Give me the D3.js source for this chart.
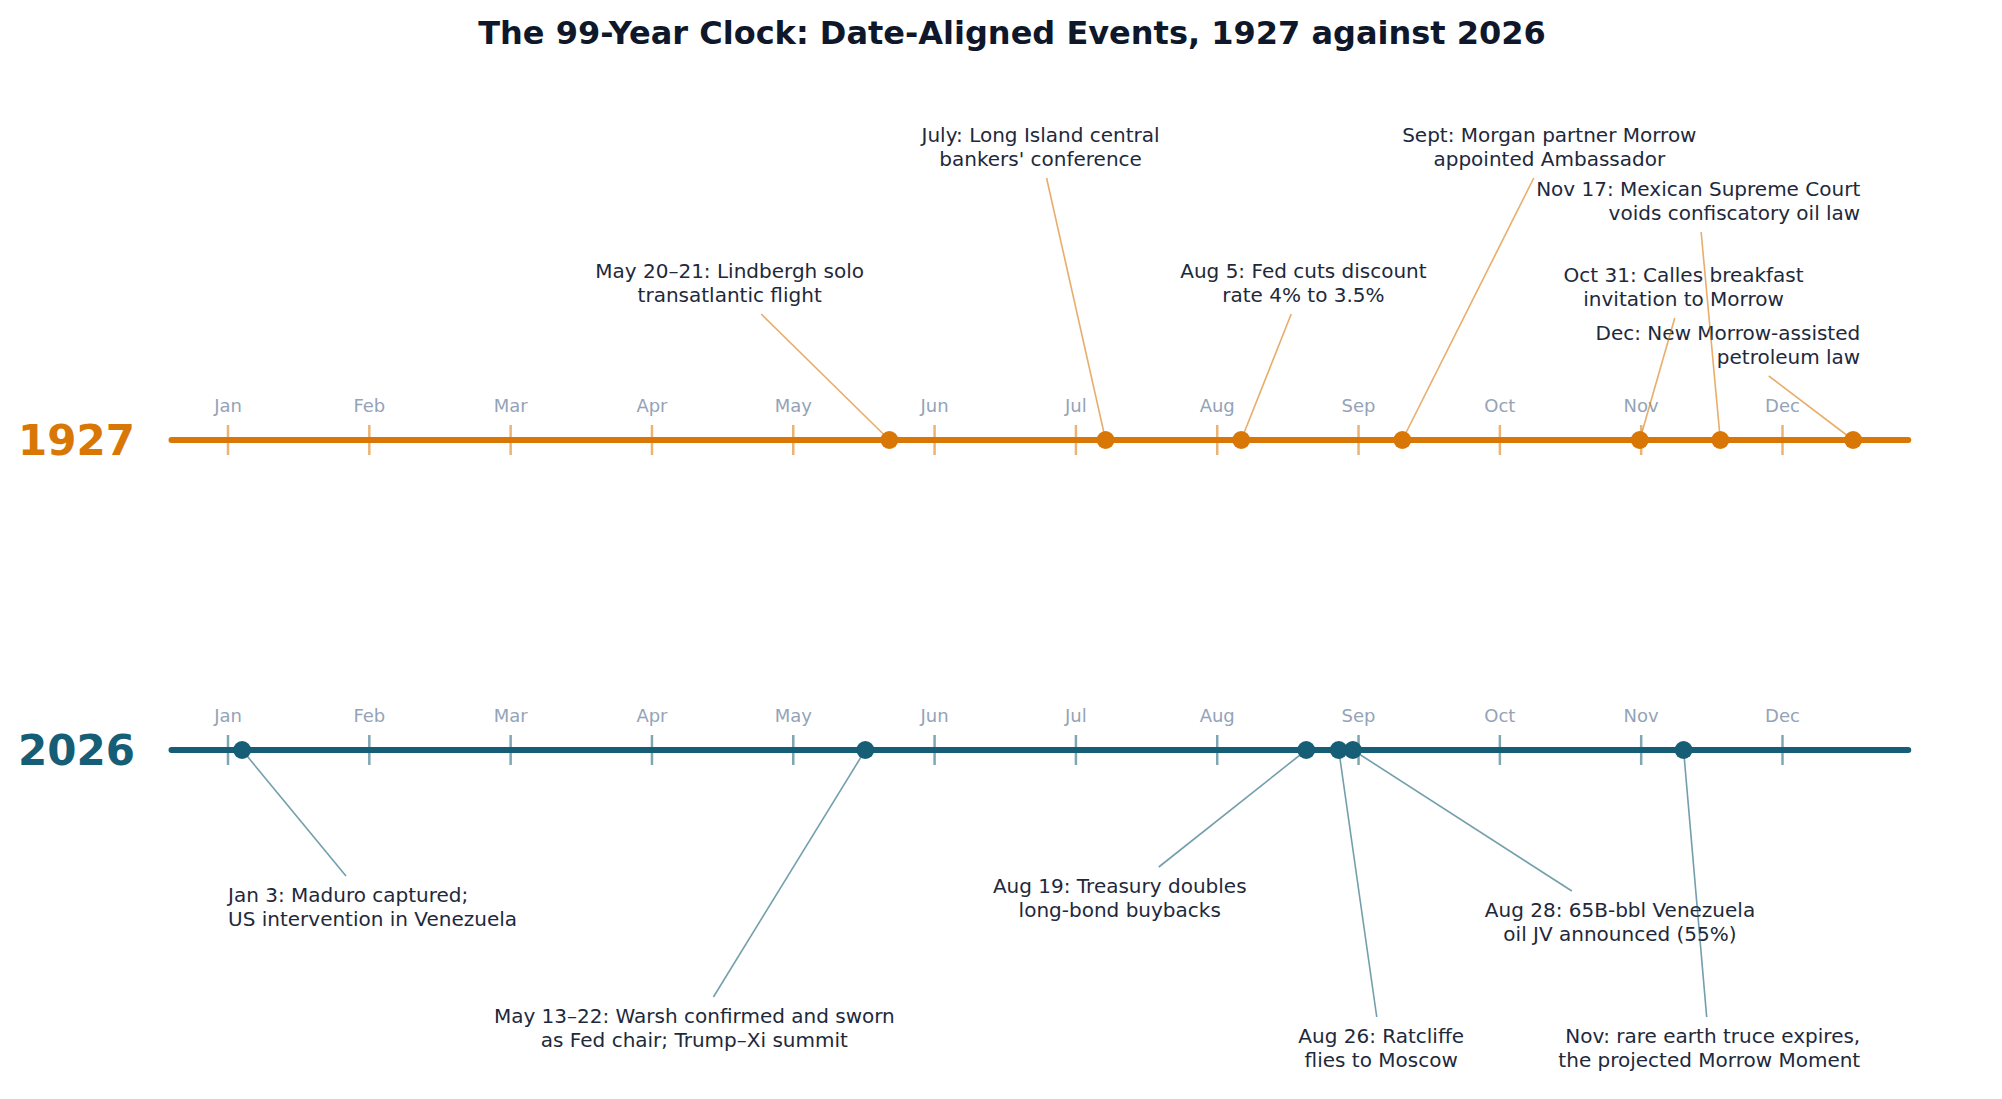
<!DOCTYPE html>
<html>
<head>
<meta charset="utf-8">
<style>
  body { margin: 0; background: #ffffff; }
  text { font-family: "DejaVu Sans", sans-serif; }
</style>
</head>
<body>
<script src="https://d3js.org/d3.v7.min.js"></script>
<script>
  // month ticks along both rows
  const months = ["Jan", "Feb", "Mar", "Apr", "May", "Jun", "Jul", "Aug", "Sep", "Oct", "Nov", "Dec"];

  // 1927 events: label text and position in months (1 = Jan 1)
  const labels1927 = [
    ["May 20\u201321: Lindbergh solo", "transatlantic flight"],
    ["July: Long Island central", "bankers' conference"],
    ["Aug 5: Fed cuts discount", "rate 4% to 3.5%"],
    ["Sept: Morgan partner Morrow", "appointed Ambassador"],
    ["Oct 31: Calles breakfast", "invitation to Morrow"],
    ["Nov 17: Mexican Supreme Court", "voids confiscatory oil law"],
    ["Dec: New Morrow-assisted", "petroleum law"]
  ];
  const pos1927 = [5.68, 7.21, 8.17, 9.31, 10.99, 11.56, 12.50];

  // 2026 events
  const labels2026 = [
    ["Jan 3: Maduro captured;", "US intervention in Venezuela"],
    ["May 13\u201322: Warsh confirmed and sworn", "as Fed chair; Trump\u2013Xi summit"],
    ["Aug 19: Treasury doubles", "long-bond buybacks"],
    ["Aug 26: Ratcliffe", "flies to Moscow"],
    ["Aug 28: 65B-bbl Venezuela", "oil JV announced (55%)"],
    ["Nov: rare earth truce expires,", "the projected Morrow Moment"]
  ];
  const pos2026 = [1.10, 5.51, 8.63, 8.86, 8.96, 11.30];

  // where each label sits: [x in months, offset from the axis in px, anchor]
  const place1927 = [
    [4.55, -169, "middle"], [6.75, -305, "middle"], [8.61, -169, "middle"],
    [10.35, -305, "middle"], [11.30, -165, "middle"], [12.55, -251, "end"],
    [12.55, -107, "end"]
  ];
  const place2026 = [
    [1.00, 145, "start"], [4.30, 266, "middle"], [7.31, 136, "middle"],
    [9.16, 286, "middle"], [10.85, 160, "middle"], [12.55, 286, "end"]
  ];

  const width = 2002, height = 1099;
  const svg = d3.select("body").append("svg")
    .attr("width", width)
    .attr("height", height);

  const x = d3.scaleLinear().domain([1, 12]).range([228, 1782.5]);

  svg.append("text")
    .attr("x", 1012)
    .attr("y", 44)
    .attr("text-anchor", "middle")
    .style("font-size", "32px")
    .style("font-weight", "bold")
    .style("fill", "#0f172a")
    .text("The 99-Year Clock: Date-Aligned Events, 1927 against 2026");

  const rows = [
    { year: "1927", y: 440, color: "#d97706", labels: labels1927, pos: pos1927, place: place1927 },
    { year: "2026", y: 750, color: "#155e75", labels: labels2026, pos: pos2026, place: place2026 }
  ];

  rows.forEach(r => {
    const g = svg.append("g");

    g.append("line")
      .attr("x1", x(0.6)).attr("x2", x(12.89))
      .attr("y1", r.y).attr("y2", r.y)
      .style("stroke", r.color)
      .style("stroke-width", 6)
      .style("stroke-linecap", "round");

    months.forEach((m, i) => {
      g.append("line")
        .attr("x1", x(i + 1)).attr("x2", x(i + 1))
        .attr("y1", r.y - 15).attr("y2", r.y + 15)
        .style("stroke", r.color)
        .style("stroke-opacity", 0.55)
        .style("stroke-width", 2.5);
      g.append("text")
        .attr("x", x(i + 1))
        .attr("y", r.y - 28)
        .attr("text-anchor", "middle")
        .style("font-size", "18px")
        .style("fill", "#94a3b8")
        .text(m);
    });

    g.append("text")
      .attr("x", 135)
      .attr("y", r.y + 15)
      .attr("text-anchor", "end")
      .style("font-size", "42px")
      .style("font-weight", "bold")
      .style("fill", r.color)
      .text(r.year);

    // labels first, leaders after, dots on top
    const leaders = g.append("g");
    r.labels.forEach((lines, i) => {
      const p = r.place[i];
      const t = g.append("text")
        .attr("text-anchor", p[2])
        .style("font-size", "20px")
        .style("fill", "#1e293b");
      lines.forEach((s, k) => {
        t.append("tspan")
          .attr("x", x(p[0]))
          .attr("y", r.y + p[1] + 7 + k * 24)
          .text(s);
      });
      const b = t.node().getBBox();
      const pad = 7;
      const cx = b.x + b.width / 2, cy = b.y + b.height / 2;
      const px = x(r.pos[i]), py = r.y;
      const dx = px - cx, dy = py - cy;
      const k = Math.min((b.width / 2 + pad) / Math.abs(dx || 1e-6), (b.height / 2 + pad) / Math.abs(dy || 1e-6));
      leaders.append("line")
        .attr("x1", cx + dx * k).attr("y1", cy + dy * k)
        .attr("x2", px).attr("y2", py)
        .style("stroke", r.color)
        .style("stroke-opacity", 0.6)
        .style("stroke-width", 1.6);
    });
    leaders.raise();

    r.pos.forEach(v => {
      g.append("circle")
        .attr("cx", x(v))
        .attr("cy", r.y)
        .attr("r", 9)
        .style("fill", r.color);
    });
  });
</script>
</body>
</html>
